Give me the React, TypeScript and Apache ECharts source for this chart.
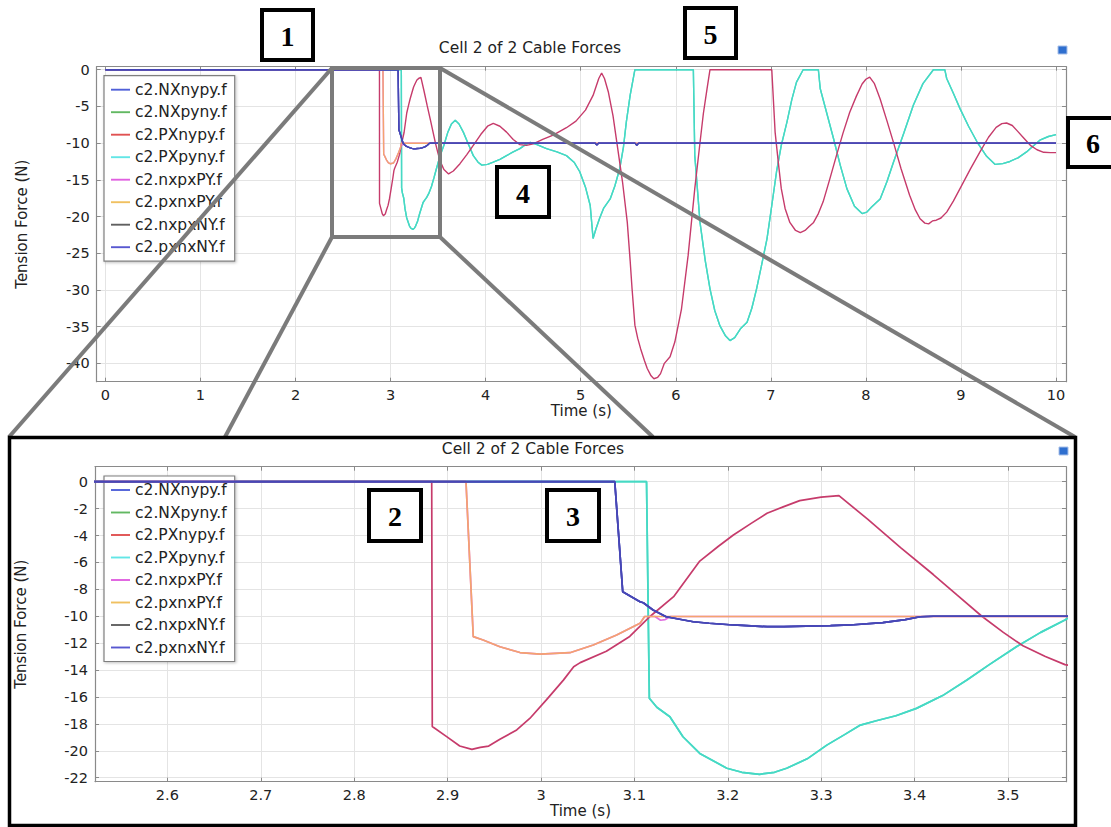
import React, { useEffect, useRef } from "react";
import * as echarts from "echarts";

// ---------- data ----------
const seriesNames = [
  "c2.NXnypy.f",
  "c2.NXpyny.f",
  "c2.PXnypy.f",
  "c2.PXpyny.f",
  "c2.nxpxPY.f",
  "c2.pxnxPY.f",
  "c2.nxpxNY.f",
  "c2.pxnxNY.f",
];
const legendColors = ["#5060d8", "#62b862", "#e05252", "#62e6e6", "#e060e0", "#f0c060", "#606060", "#5858d0"];

// crimson oscillation (PXnypy)
const crimsonTime = [
  0, 2.883, 2.8836, 2.899, 2.913, 2.926, 2.935, 2.944, 2.956, 2.974, 2.988, 3.006, 3.024, 3.035, 3.042, 3.07, 3.095,
  3.117, 3.142, 3.17, 3.19, 3.206, 3.225, 3.242, 3.26, 3.277, 3.3, 3.319, 3.35, 3.385, 3.42, 3.445, 3.472, 3.495, 3.516,
  3.54, 3.561, 3.61, 3.66, 3.73, 3.8, 3.87, 3.95,
  4.02, 4.08, 4.15, 4.22, 4.29, 4.36, 4.43, 4.5, 4.6, 4.71, 4.85, 4.95, 5.05, 5.13, 5.19, 5.22, 5.25, 5.29, 5.34, 5.38,
  5.44, 5.49, 5.52, 5.54, 5.57, 5.6, 5.63, 5.67, 5.7, 5.74, 5.77, 5.81, 5.84, 5.88, 5.94, 5.99, 6.06, 6.13, 6.2, 6.25,
  6.29, 6.33, 6.36, 7.01, 7.045, 7.08, 7.11, 7.15, 7.2, 7.26, 7.31, 7.36, 7.4, 7.45, 7.5, 7.55, 7.62, 7.69, 7.76, 7.83,
  7.9, 7.96, 8.0, 8.04, 8.09, 8.15, 8.22, 8.29, 8.37, 8.46, 8.52, 8.57, 8.62, 8.66, 8.7, 8.74, 8.79, 8.85, 8.92, 8.99,
  9.1, 9.2, 9.29, 9.37, 9.43, 9.48, 9.54, 9.59, 9.66, 9.73, 9.8, 9.87, 9.94, 10.0,
];
const crimsonForce = [
  0, 0, -18.2, -18.95, -19.65, -19.9, -19.75, -19.65, -19.15, -18.45, -17.6, -16.2, -14.75, -13.75, -13.45, -12.6,
  -11.5, -10.0, -8.55, -5.9, -4.8, -3.96, -3.1, -2.35, -1.85, -1.41, -1.15, -1.04, -2.8, -4.9, -6.9, -8.4, -10.0, -11.2,
  -12.2, -13.0, -13.6, -14.2, -13.8, -12.8, -11.6,
  -10.3, -8.8, -7.7, -7.3, -7.7, -8.5, -9.5, -10.2, -10.3, -10.1, -9.5, -8.9, -7.9, -7.0, -5.5, -3.5, -1.2, -0.45, -1.2,
  -3.0, -6.3, -9.9, -15.3, -20.8, -26.0, -29.8, -34.8, -36.6, -38.0, -39.6, -40.7, -41.7, -42.1, -41.9, -41.4, -40.0,
  -39.1, -37.1, -32.6, -25.3, -16.2, -10.5, -6.0, -2.5, 0, 0, -8.5, -12.8, -16.2, -18.9, -20.8, -21.9, -22.2, -21.9,
  -21.4, -20.8, -19.6, -18.0, -14.9, -11.7, -8.6, -5.8, -3.6, -1.95, -1.3, -1.0, -1.9, -4.0, -6.9, -9.9, -13.5, -17.1,
  -19.1, -20.3, -20.9, -21.0, -20.6, -20.5, -20.2, -19.4, -17.9, -16.2, -13.5, -11.2, -9.2, -7.85, -7.35, -7.26, -7.6,
  -8.3, -9.3, -10.3, -10.9, -11.25, -11.3, -11.3,
];

// turquoise oscillation (PXpyny / NXpyny)
const turquoiseTime = [
  0, 3.113, 3.116, 3.124, 3.138, 3.152, 3.17, 3.199, 3.215, 3.234, 3.25, 3.263, 3.285, 3.306, 3.325, 3.342, 3.359, 3.38,
  3.402, 3.43, 3.456, 3.48, 3.509, 3.535, 3.561, 3.6,
  3.64, 3.68, 3.72, 3.765, 3.82, 3.87, 3.92, 3.96, 4.02, 4.08, 4.15, 4.22, 4.29, 4.36, 4.42, 4.47, 4.54, 4.64, 4.75,
  4.85, 4.93, 4.99, 5.05, 5.1, 5.13, 5.16, 5.2, 5.24, 5.31, 5.36, 5.41, 5.45, 5.48, 5.52, 5.57, 6.185, 6.2, 6.255, 6.31,
  6.36, 6.41, 6.465, 6.52, 6.57, 6.62, 6.68, 6.75, 6.8, 6.85, 6.9, 6.96, 7.01, 7.06, 7.11, 7.17, 7.22, 7.27, 7.34, 7.5,
  7.52, 7.59, 7.66, 7.73, 7.8, 7.88, 7.96, 8.01, 8.06, 8.15, 8.22, 8.29, 8.4, 8.5, 8.6, 8.71, 8.83, 8.85, 8.92, 8.99,
  9.08, 9.17, 9.27, 9.36, 9.44, 9.515, 9.6, 9.69, 9.76, 9.83, 9.92, 10.0,
];
const turquoiseForce = [
  0, 0, -16.1, -16.77, -17.47, -18.96, -20.2, -21.3, -21.6, -21.75, -21.6, -21.3, -20.6, -19.58, -18.8, -18.09, -17.77,
  -17.4, -16.85, -15.9, -14.74, -13.6, -12.27, -11.2, -10.28, -8.6,
  -7.4, -6.9, -7.4, -8.5, -10.2, -11.7, -12.6, -13.0, -12.9, -12.6, -12.2, -11.7, -11.2, -10.75, -10.2,
  -9.9, -10.2, -10.75, -11.2, -11.7, -12.6, -13.9, -16.0, -18.5, -23.0, -21.7, -20.2, -18.9, -17.6, -15.8, -13.5, -10.5,
  -7.1, -3.5, 0, 0, -11.7, -20.8, -26.0, -29.85, -32.8, -34.9, -36.2, -36.9, -36.5, -35.3, -34.4, -32.5, -29.85, -26.8,
  -23.0, -18.5, -13.9, -10.3, -7.1, -4.1, -1.7, 0, 0, -2.6, -6.0, -9.4, -13.0, -16.2, -18.6, -19.6, -19.4, -18.7, -17.6,
  -15.3, -12.6, -8.6, -4.8, -1.9, 0, 0, -1.2, -3.2, -5.3, -7.7, -9.85, -11.8, -12.9, -12.8, -12.5, -12.0, -11.2, -10.4,
  -9.6, -9.1, -8.85,
];

// blue settling curve (NXnypy / nxpxNY / pxnxNY)
const blueTime = [
  0, 3.079, 3.0875, 3.106, 3.1095, 3.12, 3.134, 3.163, 3.18, 3.206, 3.225, 3.242, 3.26, 3.284, 3.31, 3.331, 3.366, 3.39,
  3.406, 3.42, 5.15, 5.17, 5.19, 5.57, 5.59, 5.61, 10.0,
];
const blueForce = [
  0, 0, -8.18, -8.92, -9.0, -9.54, -10.04, -10.41, -10.52, -10.65, -10.72, -10.78, -10.77, -10.73, -10.7, -10.65, -10.48,
  -10.25, -10.04, -10.0, -10.0, -10.25, -10.0, -10.0, -10.3, -10.0, -10.0,
];

// orange curve (pxnxPY)
const orangeTime = [0, 2.9197, 2.9275, 2.938, 2.956, 2.9775, 2.999, 3.031, 3.056, 3.081, 3.106, 3.111, 10.0];
const orangeForce = [0, 0, -11.52, -11.77, -12.27, -12.7, -12.81, -12.71, -12.14, -11.4, -10.53, -10.02, -10.0];

// magenta curve (nxpxPY)
const magentaTime = [
  0, 2.9197, 2.9275, 2.938, 2.956, 2.9775, 2.999, 3.031, 3.056, 3.081, 3.106, 3.111, 3.122, 3.128, 3.133, 3.139, 10.0,
];
const magentaForce = [
  0, 0, -11.52, -11.77, -12.27, -12.7, -12.81, -12.71, -12.14, -11.4, -10.53, -10.02, -10.02, -10.3, -10.25, -10.02, -10.0,
];

// tick labels
const xTicksFull = [0, 1, 2, 3, 4, 5, 6, 7, 8, 9, 10];
const yTicksFull = [0, -5, -10, -15, -20, -25, -30, -35, -40];
const xTicksZoom = [2.6, 2.7, 2.8, 2.9, 3, 3.1, 3.2, 3.3, 3.4, 3.5];
const yTicksZoom = [0, -2, -4, -6, -8, -10, -12, -14, -16, -18, -20, -22];

const chartTitle = "Cell 2 of 2 Cable Forces";
const xName = "Time (s)";
const yName = "Tension Force (N)";
const boxLabels = ["1", "2", "3", "4", "5", "6"];

// ---------- helpers ----------
const zip = (t: number[], v: number[]) => t.map((x, i) => [x, v[i]]);

const curves: Record<string, { data: number[][]; color: string; z: number }> = {
  "c2.NXnypy.f": { data: zip(blueTime, blueForce), color: "#4747b6", z: 8 },
  "c2.NXpyny.f": { data: zip(turquoiseTime, turquoiseForce), color: "#46d9c4", z: 3 },
  "c2.PXnypy.f": { data: zip(crimsonTime, crimsonForce), color: "#c63b6b", z: 4 },
  "c2.PXpyny.f": { data: zip(turquoiseTime, turquoiseForce), color: "#46d9c4", z: 3 },
  "c2.nxpxPY.f": { data: zip(magentaTime, magentaForce), color: "#e070e0", z: 5 },
  "c2.pxnxPY.f": { data: zip(orangeTime, orangeForce), color: "#f4a46e", z: 6 },
  "c2.nxpxNY.f": { data: zip(blueTime, blueForce), color: "#4747b6", z: 7 },
  "c2.pxnxNY.f": { data: zip(blueTime, blueForce), color: "#4747b6", z: 8 },
};

const FONT = "DejaVu Sans";
const AXIS_GRAY = "#8a8a8a";
const GRID_GRAY = "#e4e4e4";

function xAxes(gridIndex: number, min: number, max: number, ticks: number[]) {
  return [
    {
      type: "value",
      gridIndex,
      min,
      max,
      position: "bottom",
      name: xName,
      nameLocation: "middle",
      nameGap: 21,
      nameTextStyle: { fontFamily: FONT, fontSize: 15, color: "#222" },
      axisLine: { show: true, onZero: false, lineStyle: { color: AXIS_GRAY, width: 1.2 } },
      axisTick: { show: true, inside: true, length: 4, customValues: ticks, lineStyle: { color: AXIS_GRAY } },
      axisLabel: { show: true, customValues: ticks, margin: 6, fontFamily: FONT, fontSize: 14.5, color: "#222" },
      splitLine: { show: true, lineStyle: { color: GRID_GRAY, width: 1 } },
    },
    {
      type: "value",
      gridIndex,
      min,
      max,
      position: "top",
      axisLine: { show: true, onZero: false, lineStyle: { color: AXIS_GRAY, width: 1.2 } },
      axisTick: { show: true, inside: true, length: 4, customValues: ticks, lineStyle: { color: AXIS_GRAY } },
      axisLabel: { show: false },
      splitLine: { show: false },
    },
  ];
}

function yAxes(gridIndex: number, min: number, max: number, ticks: number[]) {
  return [
    {
      type: "value",
      gridIndex,
      min,
      max,
      position: "left",
      name: yName,
      nameLocation: "middle",
      nameGap: 67,
      nameRotate: 90,
      nameTextStyle: { fontFamily: FONT, fontSize: 15, color: "#222" },
      axisLine: { show: true, onZero: false, lineStyle: { color: AXIS_GRAY, width: 1.2 } },
      axisTick: { show: true, inside: true, length: 4, customValues: ticks, lineStyle: { color: AXIS_GRAY } },
      axisLabel: { show: true, customValues: ticks, margin: 7, fontFamily: FONT, fontSize: 14.5, color: "#222" },
      splitLine: { show: true, lineStyle: { color: GRID_GRAY, width: 1 } },
    },
    {
      type: "value",
      gridIndex,
      min,
      max,
      position: "right",
      axisLine: { show: true, onZero: false, lineStyle: { color: AXIS_GRAY, width: 1.2 } },
      axisTick: { show: true, inside: true, length: 4, customValues: ticks, lineStyle: { color: AXIS_GRAY } },
      axisLabel: { show: false },
      splitLine: { show: false },
    },
  ];
}

function makeSeries(axisIndex: number, width: number) {
  return seriesNames.map((name) => {
    const c = curves[name];
    return {
      name,
      type: "line",
      xAxisIndex: axisIndex,
      yAxisIndex: axisIndex,
      data: c.data,
      symbol: "none",
      showSymbol: false,
      clip: true,
      z: c.z,
      color: c.color,
      lineStyle: { color: c.color, width },
      emphasis: { disabled: true },
    };
  });
}

const LINE_ICON = "path://M0,0 H20 V2 H0 Z";

function legend(top: number) {
  return {
    orient: "vertical",
    left: 104,
    top,
    padding: [6, 8, 6, 7],
    itemGap: 6.5,
    itemWidth: 19,
    itemHeight: 14,
    backgroundColor: "#ffffff",
    borderColor: "#7f7f7f",
    borderWidth: 1.2,
    shadowBlur: 3,
    shadowColor: "rgba(0,0,0,0.25)",
    shadowOffsetX: 1,
    shadowOffsetY: 1,
    textStyle: { fontFamily: FONT, fontSize: 15.5, color: "#222" },
    selectedMode: false,
    data: seriesNames.map((name, i) => ({
      name,
      icon: LINE_ICON,
      itemStyle: { color: legendColors[i], borderWidth: 0 },
    })),
  };
}

function numberBox(label: string, x: number, y: number, w: number, h: number) {
  return {
    type: "group",
    z: 120,
    children: [
      {
        type: "rect",
        z: 120,
        shape: { x, y, width: w, height: h },
        style: { fill: "#ffffff", stroke: "#000000", lineWidth: 4 },
      },
      {
        type: "text",
        z: 121,
        x: x + w / 2,
        y: y + h / 2 + 1,
        style: {
          text: label,
          fill: "#000000",
          font: "bold 28px 'Liberation Serif', 'DejaVu Serif', serif",
          textAlign: "center",
          textVerticalAlign: "middle",
        },
      },
    ],
  };
}

const ZOOM_GRAY = "#7b7b7b";

const option = {
  animation: false,
  backgroundColor: "#ffffff",
  grid: [
    { left: 96.7, top: 66.7, width: 969.3, height: 315, containLabel: false },
    { left: 95, top: 466.7, width: 971, height: 315, containLabel: false },
  ],
  xAxis: [...xAxes(0, -0.0915, 10.105, xTicksFull), ...xAxes(1, 2.5225, 3.5621, xTicksZoom)],
  yAxis: [...yAxes(0, -42.5, 0.41, yTicksFull), ...yAxes(1, -22.3, 1.115, yTicksZoom)],
  legend: [legend(75.7), legend(476)],
  series: [...makeSeries(0, 1.4), ...makeSeries(2, 1.7)],
  graphic: [
    {
      type: "text",
      z: 50,
      x: 530,
      y: 48,
      style: { text: chartTitle, font: `15.5px '${FONT}'`, fill: "#222", textAlign: "center", textVerticalAlign: "middle" },
    },
    {
      type: "text",
      z: 50,
      x: 533,
      y: 449,
      style: { text: chartTitle, font: `15.5px '${FONT}'`, fill: "#222", textAlign: "center", textVerticalAlign: "middle" },
    },
    { type: "rect", z: 50, shape: { x: 1058, y: 46, width: 9, height: 8 }, style: { fill: "#2f6fcf", stroke: "#a8c0e8", lineWidth: 1 } },
    { type: "rect", z: 50, shape: { x: 1059, y: 447, width: 9, height: 8 }, style: { fill: "#2f6fcf", stroke: "#a8c0e8", lineWidth: 1 } },
    // zoom connector lines
    { type: "line", z: 100, shape: { x1: 332, y1: 68, x2: 9, y2: 437 }, style: { stroke: ZOOM_GRAY, lineWidth: 4 } },
    { type: "line", z: 100, shape: { x1: 440, y1: 68, x2: 1075, y2: 437 }, style: { stroke: ZOOM_GRAY, lineWidth: 4 } },
    { type: "line", z: 100, shape: { x1: 332, y1: 237, x2: 225, y2: 437 }, style: { stroke: ZOOM_GRAY, lineWidth: 4 } },
    { type: "line", z: 100, shape: { x1: 440, y1: 237, x2: 653, y2: 437 }, style: { stroke: ZOOM_GRAY, lineWidth: 4 } },
    { type: "rect", z: 100, shape: { x: 332, y: 68, width: 108, height: 169 }, style: { fill: "none", stroke: ZOOM_GRAY, lineWidth: 4 } },
    // inset frame
    { type: "rect", z: 101, shape: { x: 9.5, y: 437.5, width: 1066, height: 388 }, style: { fill: "none", stroke: "#000000", lineWidth: 3.5 } },
    numberBox(boxLabels[0], 262, 10, 51, 50),
    numberBox(boxLabels[1], 369, 490, 52, 51),
    numberBox(boxLabels[2], 547, 490, 52, 51),
    numberBox(boxLabels[3], 497, 167, 52, 50),
    numberBox(boxLabels[4], 685, 8, 51, 50),
    numberBox(boxLabels[5], 1068, 118, 50, 49),
  ],
};

export default function App() {
  const ref = useRef<HTMLDivElement>(null);
  useEffect(() => {
    if (!ref.current) return;
    const chart = echarts.init(ref.current, undefined, { renderer: "svg" });
    chart.setOption(option as any);
    return () => chart.dispose();
  }, []);
  return (
    <div
      ref={ref}
      style={{ position: "fixed", left: 0, top: 0, width: 1111, height: 827, background: "#ffffff" }}
    />
  );
}
